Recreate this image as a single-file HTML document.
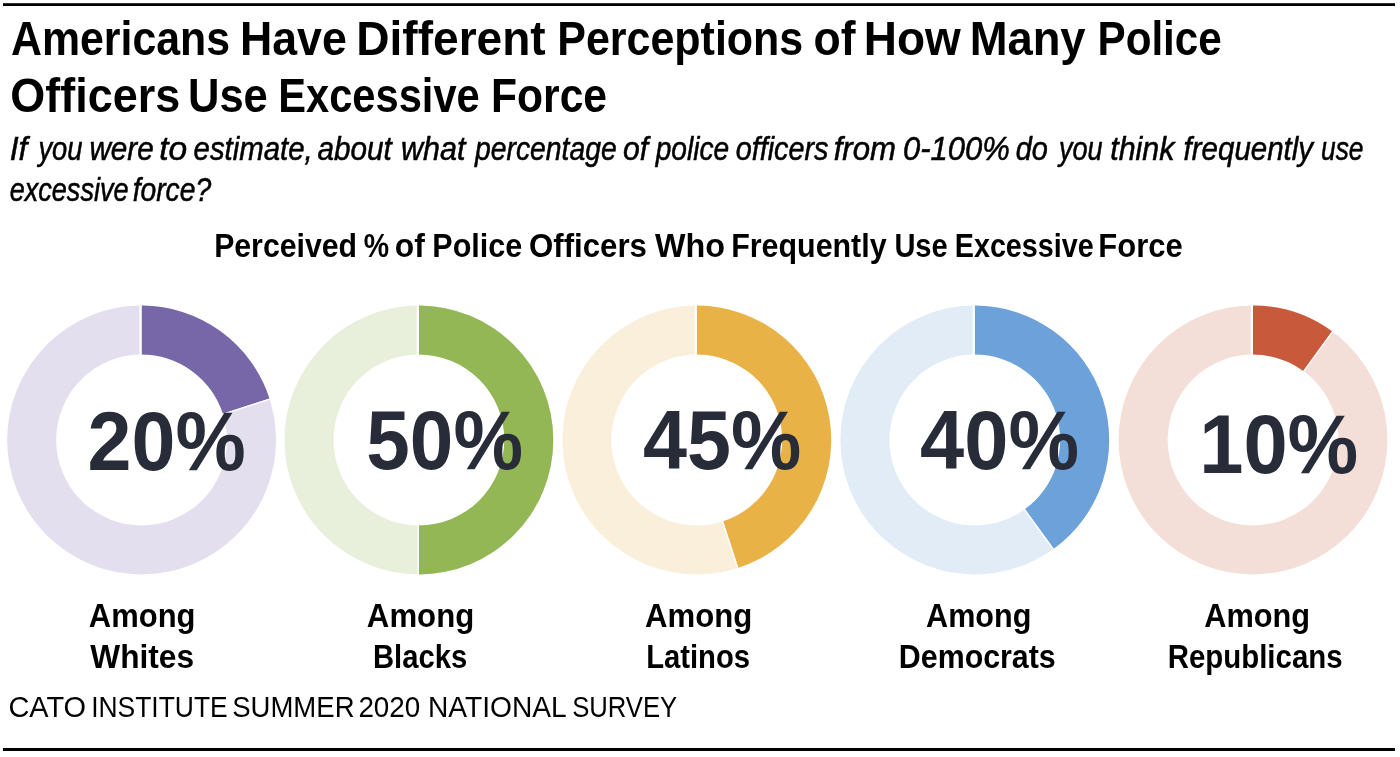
<!DOCTYPE html>
<html><head><meta charset="utf-8">
<style>
html,body{margin:0;padding:0;background:#fff;width:1400px;height:757px;overflow:hidden}
svg{display:block;will-change:transform}
text{font-family:"Liberation Sans",sans-serif;fill:#000}
.t1{font-size:48px;font-weight:bold}
.sub{font-size:34px;font-style:italic;stroke:#000;stroke-width:0.55px}
.ct{font-size:34px;font-weight:bold}
.lab{font-size:34px;font-weight:bold}
.pct{font-size:84px;font-weight:bold;fill:#272c38}
.ft{font-size:29.6px}
</style></head><body>
<svg width="1400" height="757" viewBox="0 0 1400 757">
<rect width="1400" height="757" fill="#fff"/>
<rect x="3" y="3.2" width="1392" height="2.8" fill="#000"/>
<rect x="3" y="748" width="1392" height="3" fill="#000"/>
<circle cx="141.6" cy="440" r="109.90" fill="none" stroke="#e3dfee" stroke-width="49.00"/>
<path d="M141.60,305.60 A134.4,134.4 0 0 1 269.42,398.47 L222.82,413.61 A85.4,85.4 0 0 0 141.60,354.60 Z" fill="#7767a8"/>
<line x1="140.50" y1="304.6" x2="140.50" y2="355.6" stroke="#fff" stroke-width="2.2"/>
<line x1="222.09" y1="414.58" x2="270.59" y2="398.82" stroke="#fff" stroke-width="1.3"/>
<circle cx="418.9" cy="440" r="109.90" fill="none" stroke="#e8f0dc" stroke-width="49.00"/>
<path d="M418.90,305.60 A134.4,134.4 0 0 1 418.90,574.40 L418.90,525.40 A85.4,85.4 0 0 0 418.90,354.60 Z" fill="#93b755"/>
<line x1="417.80" y1="304.6" x2="417.80" y2="355.6" stroke="#fff" stroke-width="2.2"/>
<line x1="418.20" y1="524.40" x2="418.20" y2="575.40" stroke="#fff" stroke-width="1.3"/>
<circle cx="696.8" cy="440" r="109.90" fill="none" stroke="#f9efdb" stroke-width="49.00"/>
<path d="M696.80,305.60 A134.4,134.4 0 0 1 738.33,567.82 L723.19,521.22 A85.4,85.4 0 0 0 696.80,354.60 Z" fill="#e8b247"/>
<line x1="695.70" y1="304.6" x2="695.70" y2="355.6" stroke="#fff" stroke-width="2.2"/>
<line x1="722.22" y1="520.49" x2="737.98" y2="568.99" stroke="#fff" stroke-width="1.3"/>
<circle cx="974.8" cy="440" r="109.90" fill="none" stroke="#e2ecf7" stroke-width="49.00"/>
<path d="M974.80,305.60 A134.4,134.4 0 0 1 1053.80,548.73 L1025.00,509.09 A85.4,85.4 0 0 0 974.80,354.60 Z" fill="#6ca2d9"/>
<line x1="973.70" y1="304.6" x2="973.70" y2="355.6" stroke="#fff" stroke-width="2.2"/>
<line x1="1023.84" y1="508.69" x2="1053.82" y2="549.95" stroke="#fff" stroke-width="1.3"/>
<circle cx="1253" cy="440" r="109.90" fill="none" stroke="#f4ded8" stroke-width="49.00"/>
<path d="M1253.00,305.60 A134.4,134.4 0 0 1 1332.00,331.27 L1303.20,370.91 A85.4,85.4 0 0 0 1253.00,354.60 Z" fill="#c9593b"/>
<line x1="1251.90" y1="304.6" x2="1251.90" y2="355.6" stroke="#fff" stroke-width="2.2"/>
<line x1="1303.18" y1="372.13" x2="1333.15" y2="330.87" stroke="#fff" stroke-width="1.3"/>
<text id="t1_0" x="10.98" y="54.6" class="t1" textLength="219.15" lengthAdjust="spacingAndGlyphs">Americans</text>
<text id="t1_1" x="239.96" y="54.6" class="t1" textLength="106.80" lengthAdjust="spacingAndGlyphs">Have</text>
<text id="t1_2" x="356.34" y="54.6" class="t1" textLength="189.27" lengthAdjust="spacingAndGlyphs">Different</text>
<text id="t1_3" x="557.24" y="54.6" class="t1" textLength="245.99" lengthAdjust="spacingAndGlyphs">Perceptions</text>
<text id="t1_4" x="813.61" y="54.6" class="t1" textLength="42.01" lengthAdjust="spacingAndGlyphs">of</text>
<text id="t1_5" x="863.78" y="54.6" class="t1" textLength="96.94" lengthAdjust="spacingAndGlyphs">How</text>
<text id="t1_6" x="969.63" y="54.6" class="t1" textLength="115.99" lengthAdjust="spacingAndGlyphs">Many</text>
<text id="t1_7" x="1097.50" y="54.6" class="t1" textLength="124.25" lengthAdjust="spacingAndGlyphs">Police</text>
<text id="t2_0" x="10.35" y="111.7" class="t1" textLength="169.91" lengthAdjust="spacingAndGlyphs">Officers</text>
<text id="t2_1" x="187.97" y="111.7" class="t1" textLength="79.81" lengthAdjust="spacingAndGlyphs">Use</text>
<text id="t2_2" x="278.25" y="111.7" class="t1" textLength="201.48" lengthAdjust="spacingAndGlyphs">Excessive</text>
<text id="t2_3" x="491.10" y="111.7" class="t1" textLength="115.97" lengthAdjust="spacingAndGlyphs">Force</text>
<text id="s1_0" x="9.65" y="159.6" class="sub" textLength="17.77" lengthAdjust="spacingAndGlyphs">If</text>
<text id="s1_1" x="38.44" y="159.6" class="sub" textLength="44.01" lengthAdjust="spacingAndGlyphs">you</text>
<text id="s1_2" x="89.41" y="159.6" class="sub" textLength="64.32" lengthAdjust="spacingAndGlyphs">were</text>
<text id="s1_3" x="159.30" y="159.6" class="sub" textLength="27.98" lengthAdjust="spacingAndGlyphs">to</text>
<text id="s1_4" x="193.59" y="159.6" class="sub" textLength="119.08" lengthAdjust="spacingAndGlyphs">estimate,</text>
<text id="s1_5" x="317.38" y="159.6" class="sub" textLength="74.33" lengthAdjust="spacingAndGlyphs">about</text>
<text id="s1_6" x="401.08" y="159.6" class="sub" textLength="64.45" lengthAdjust="spacingAndGlyphs">what</text>
<text id="s1_7" x="474.99" y="159.6" class="sub" textLength="141.71" lengthAdjust="spacingAndGlyphs">percentage</text>
<text id="s1_8" x="623.10" y="159.6" class="sub" textLength="25.16" lengthAdjust="spacingAndGlyphs">of</text>
<text id="s1_9" x="655.70" y="159.6" class="sub" textLength="73.52" lengthAdjust="spacingAndGlyphs">police</text>
<text id="s1_10" x="735.68" y="159.6" class="sub" textLength="92.73" lengthAdjust="spacingAndGlyphs">officers</text>
<text id="s1_11" x="833.69" y="159.6" class="sub" textLength="62.31" lengthAdjust="spacingAndGlyphs">from</text>
<text id="s1_12" x="902.96" y="159.6" class="sub" textLength="106.77" lengthAdjust="spacingAndGlyphs">0-100%</text>
<text id="s1_13" x="1015.64" y="159.6" class="sub" textLength="32.14" lengthAdjust="spacingAndGlyphs">do</text>
<text id="s1_14" x="1058.95" y="159.6" class="sub" textLength="43.54" lengthAdjust="spacingAndGlyphs">you</text>
<text id="s1_15" x="1110.19" y="159.6" class="sub" textLength="64.21" lengthAdjust="spacingAndGlyphs">think</text>
<text id="s1_16" x="1183.59" y="159.6" class="sub" textLength="129.53" lengthAdjust="spacingAndGlyphs">frequently</text>
<text id="s1_17" x="1321.03" y="159.6" class="sub" textLength="42.44" lengthAdjust="spacingAndGlyphs">use</text>
<text id="s2_0" x="9.68" y="201.2" class="sub" textLength="118.84" lengthAdjust="spacingAndGlyphs">excessive</text>
<text id="s2_1" x="132.68" y="201.2" class="sub" textLength="78.42" lengthAdjust="spacingAndGlyphs">force?</text>
<text id="ct_0" x="214.13" y="256.6" class="ct" textLength="142.92" lengthAdjust="spacingAndGlyphs">Perceived</text>
<text id="ct_1" x="363.85" y="256.6" class="ct" textLength="25.34" lengthAdjust="spacingAndGlyphs">%</text>
<text id="ct_2" x="394.86" y="256.6" class="ct" textLength="30.07" lengthAdjust="spacingAndGlyphs">of</text>
<text id="ct_3" x="432.34" y="256.6" class="ct" textLength="90.00" lengthAdjust="spacingAndGlyphs">Police</text>
<text id="ct_4" x="529.06" y="256.6" class="ct" textLength="117.88" lengthAdjust="spacingAndGlyphs">Officers</text>
<text id="ct_5" x="655.00" y="256.6" class="ct" textLength="70.01" lengthAdjust="spacingAndGlyphs">Who</text>
<text id="ct_6" x="731.16" y="256.6" class="ct" textLength="155.45" lengthAdjust="spacingAndGlyphs">Frequently</text>
<text id="ct_7" x="894.38" y="256.6" class="ct" textLength="53.33" lengthAdjust="spacingAndGlyphs">Use</text>
<text id="ct_8" x="954.76" y="256.6" class="ct" textLength="138.98" lengthAdjust="spacingAndGlyphs">Excessive</text>
<text id="ct_9" x="1098.32" y="256.6" class="ct" textLength="84.36" lengthAdjust="spacingAndGlyphs">Force</text>
<text id="ft_0" x="8.42" y="716.7" class="ft" textLength="77.62" lengthAdjust="spacingAndGlyphs">CATO</text>
<text id="ft_1" x="91.13" y="716.7" class="ft" textLength="136.62" lengthAdjust="spacingAndGlyphs">INSTITUTE</text>
<text id="ft_2" x="232.15" y="716.7" class="ft" textLength="122.40" lengthAdjust="spacingAndGlyphs">SUMMER</text>
<text id="ft_3" x="358.41" y="716.7" class="ft" textLength="61.84" lengthAdjust="spacingAndGlyphs">2020</text>
<text id="ft_4" x="427.96" y="716.7" class="ft" textLength="138.77" lengthAdjust="spacingAndGlyphs">NATIONAL</text>
<text id="ft_5" x="572.17" y="716.7" class="ft" textLength="105.05" lengthAdjust="spacingAndGlyphs">SURVEY</text>
<text id="pct0" x="87.60" y="470.0" class="pct" textLength="158.18" lengthAdjust="spacingAndGlyphs">20%</text>
<text id="pct1" x="366.33" y="468.8" class="pct" textLength="156.64" lengthAdjust="spacingAndGlyphs">50%</text>
<text id="pct2" x="642.98" y="468.8" class="pct" textLength="158.27" lengthAdjust="spacingAndGlyphs">45%</text>
<text id="pct3" x="920.07" y="468.8" class="pct" textLength="158.98" lengthAdjust="spacingAndGlyphs">40%</text>
<text id="pct4" x="1199.16" y="472.7" class="pct" textLength="159.15" lengthAdjust="spacingAndGlyphs">10%</text>
<text id="la0" x="88.87" y="626.6" class="lab" textLength="106.58" lengthAdjust="spacingAndGlyphs">Among</text>
<text id="lb0" x="90.29" y="667.9" class="lab" textLength="103.73" lengthAdjust="spacingAndGlyphs">Whites</text>
<text id="la1" x="366.86" y="626.6" class="lab" textLength="107.42" lengthAdjust="spacingAndGlyphs">Among</text>
<text id="lb1" x="372.93" y="667.9" class="lab" textLength="94.21" lengthAdjust="spacingAndGlyphs">Blacks</text>
<text id="la2" x="644.97" y="626.6" class="lab" textLength="107.30" lengthAdjust="spacingAndGlyphs">Among</text>
<text id="lb2" x="646.13" y="667.9" class="lab" textLength="104.00" lengthAdjust="spacingAndGlyphs">Latinos</text>
<text id="la3" x="926.07" y="626.6" class="lab" textLength="105.28" lengthAdjust="spacingAndGlyphs">Among</text>
<text id="lb3" x="898.85" y="667.9" class="lab" textLength="156.89" lengthAdjust="spacingAndGlyphs">Democrats</text>
<text id="la4" x="1204.25" y="626.6" class="lab" textLength="105.90" lengthAdjust="spacingAndGlyphs">Among</text>
<text id="lb4" x="1167.66" y="667.9" class="lab" textLength="174.97" lengthAdjust="spacingAndGlyphs">Republicans</text>
</svg>
</body></html>
